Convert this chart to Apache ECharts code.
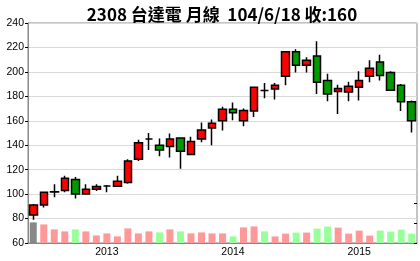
<!DOCTYPE html>
<html>
<head>
<meta charset="utf-8">
<script src="https://cdn.jsdelivr.net/npm/echarts@6/dist/echarts.min.js"></script>
<style>html,body{margin:0;padding:0;background:#fff}#c{width:420px;height:261px}</style>
</head>
<body>
<div id="c"></div>
<script>
var titleText = '2308 台達電 月線  104/6/18 收:160';
var categories = ['2012/06','2012/07','2012/08','2012/09','2012/10','2012/11','2012/12',
  '2013/01','2013/02','2013/03','2013/04','2013/05','2013/06','2013/07','2013/08','2013/09','2013/10','2013/11','2013/12',
  '2014/01','2014/02','2014/03','2014/04','2014/05','2014/06','2014/07','2014/08','2014/09','2014/10','2014/11','2014/12',
  '2015/01','2015/02','2015/03','2015/04','2015/05','2015/06'];
var yearLabels = {'2013/01':'2013','2014/01':'2014','2015/01':'2015'};
var opens  = [83, 91, 101.8, 103, 112, 100, 104, 106.6, 106.5, 109.5, 128.5, 145, 140, 139, 146, 132.5, 145, 154, 160, 169.5, 160, 168, 184.7, 186, 196.5, 216.5, 205.5, 213, 193, 184, 183.5, 187.5, 196.5, 208, 199.5, 189, 175.5];
var closes = [91, 101.5, 102, 113, 100, 104, 106.3, 106.6, 110.5, 127, 142, 145, 136, 145, 135, 143, 152.5, 158, 169.5, 166.5, 168.5, 187.5, 184.7, 189, 216.5, 205.5, 209.5, 191.5, 182, 186.5, 188.3, 193, 203, 197, 185, 175.5, 160];
var lows   = [79, 89, 97.5, 101.5, 96.5, 100, 102.5, 101.5, 106, 108.5, 127, 136, 131, 130, 120.7, 132, 142.5, 140, 152, 160.5, 155.5, 163, 178.5, 177.5, 189, 199.5, 199.5, 182, 176, 165.5, 176, 176.5, 191.5, 193, 184.5, 168, 150.5];
var highs  = [92, 102, 108, 115, 114, 108, 108, 107.5, 115, 128.5, 144.5, 150, 145.5, 149.5, 146.5, 147, 158.5, 161, 171.5, 175, 170, 188, 191, 191, 217, 218.5, 212, 225, 198.5, 189.5, 192, 200.5, 209.5, 214, 200.5, 190, 176.5];
var volumes = [103, 93, 68, 58, 68, 58, 38, 48, 33, 73, 48, 58, 53, 68, 58, 48, 53, 48, 48, 33, 78, 83, 58, 33, 47, 52, 52, 72, 82, 77, 47, 62, 37, 62, 57, 67, 47];

var candleData = categories.map(function(c, i){ return [opens[i], closes[i], lows[i], highs[i]]; });
var volData = volumes.map(function(v, i){
  var col = i === 0 ? '#888888' : (closes[i] >= closes[i-1] ? '#ff9999' : '#99ff99');
  return {value: v, itemStyle: {color: col}};
});
var labelFont = {fontFamily: 'Liberation Sans, Arial, sans-serif', fontSize: 10.5, color: '#000'};

var chart = echarts.init(document.getElementById('c'), null, {renderer: 'canvas'});
chart.setOption({
  animation: false,
  backgroundColor: '#fff',
  title: {
    text: titleText, left: 217, top: 1, textAlign: 'center',
    textStyle: {fontFamily: 'Noto Sans CJK TC, sans-serif', fontSize: 17, fontWeight: 'bold', color: '#000'}
  },
  grid: [
    {left: 28, right: 3, top: 23, bottom: 18, show: true, borderColor: '#888', borderWidth: 1, backgroundColor: 'transparent'},
    {left: 28, right: 3, top: 203, bottom: 18, show: false}
  ],
  xAxis: [
    {type: 'category', gridIndex: 0, data: categories, boundaryGap: true,
     axisLine: {lineStyle: {color: '#888'}},
     axisTick: {alignWithLabel: true, length: 3, lineStyle: {color: '#000'},
       interval: function(i, v){ return !!yearLabels[v]; }},
     axisLabel: Object.assign({margin: 4, interval: function(i, v){ return !!yearLabels[v]; },
       formatter: function(v){ return yearLabels[v] || ''; }}, labelFont),
     splitLine: {show: false}},
    {type: 'category', gridIndex: 1, data: categories, boundaryGap: true, show: false}
  ],
  yAxis: [
    {type: 'value', gridIndex: 0, min: 60, max: 240, interval: 20,
     axisLine: {show: true, lineStyle: {color: '#888'}},
     axisTick: {show: true, length: 3, lineStyle: {color: '#000'}},
     axisLabel: Object.assign({margin: 4}, labelFont),
     splitLine: {show: true, lineStyle: {color: '#d9d9d9', width: 1}}},
    {type: 'value', gridIndex: 1, position: 'right', min: 0, max: 200, interval: 100,
     axisLine: {show: false},
     axisTick: {show: true, inside: true, length: 3, lineStyle: {color: '#000'}},
     axisLabel: {show: false},
     splitLine: {show: false}}
  ],
  series: [
    {type: 'bar', xAxisIndex: 1, yAxisIndex: 1, data: volData, barWidth: 7, z: 1},
    {type: 'candlestick', xAxisIndex: 0, yAxisIndex: 0, data: candleData, barWidth: 8, z: 3,
     itemStyle: {color: '#ff0000', color0: '#009900', borderColor: '#000', borderColor0: '#000', borderWidth: 1.5}}
  ]
});
</script>
</body>
</html>
